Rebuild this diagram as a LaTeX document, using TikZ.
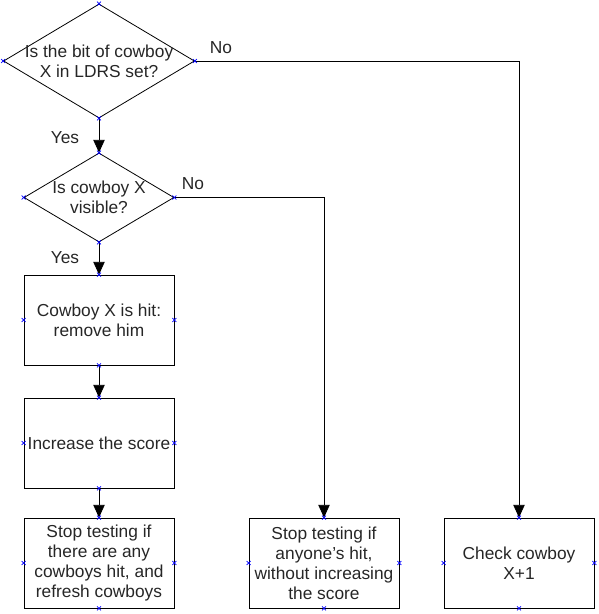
\documentclass[tikz,border=0pt]{standalone}
\usepackage{fontspec}
\setmainfont{Liberation Sans}
\usetikzlibrary{shapes.geometric,arrows.meta,positioning}

\tikzset{
    txt/.style={font=\fontsize{13}{15}\selectfont, text=black!85},
    process/.style={draw, rectangle, txt, align=center, inner sep=2pt,
        minimum width=112.5pt, minimum height=67.5pt},
    decision/.style={draw, diamond, txt, align=center, inner sep=-4pt, shape aspect=1.68},
    flow/.style={-{Triangle[length=9.5pt,width=8.5pt]}},
    cpt/.style={blue, line width=0.5pt}
}
% small blue connection marks on the four sides of a shape
\newcommand{\conpts}[1]{%
    \foreach \a in {north,south,east,west}{
        \draw [cpt] ([shift={(-1.5pt,-1.5pt)}]#1.\a) -- ++(3pt,3pt)
                    ([shift={(-1.5pt,1.5pt)}]#1.\a) -- ++(3pt,-3pt);
    }}

\begin{document}
\begin{tikzpicture}[x=0.75pt, y=-0.75pt, line width=0.6pt]
    \useasboundingbox (0,0) rectangle (599,614);

    \node [decision, minimum width=143.25pt, minimum height=85.5pt] (bit) at (99,61)
        {Is the bit of cowboy\\X in LDRS set?};
    \node [decision, minimum width=112.5pt, minimum height=66.75pt] (visible) at (99,197.5)
        {Is cowboy X\\visible?};
    \node [process] (hit) at (99,320) {Cowboy X is hit:\\remove him};
    \node [process] (score) at (99,443) {Increase the score};
    \node [process] (stopall) at (99,563) {Stop testing if\\there are any\\cowboys hit, and\\refresh cowboys};
    \node [process] (stopany) at (324,563) {Stop testing if\\anyone’s hit,\\without increasing\\the score};
    \node [process] (next) at (519,563) {Check cowboy\\X+1};

    \draw [flow] (bit.south) -- (visible.north);
    \draw [flow] (visible.south) -- (hit.north);
    \draw [flow] (hit.south) -- (score.north);
    \draw [flow] (score.south) -- (stopall.north);
    \draw [flow] (bit.east) -| (next.north);
    \draw [flow] (visible.east) -| (stopany.north);

    \node [txt] (yes1) at (65,138) {Yes};
    \node [txt] (yes2) at (65,258) {Yes};
    \node [txt] (no1) at (221,48) {No};
    \node [txt] (no2) at (193,184) {No};

    \foreach \n in {bit,visible,hit,score,stopall,stopany,next}{
        \conpts{\n}
    }
\end{tikzpicture}
\end{document}
